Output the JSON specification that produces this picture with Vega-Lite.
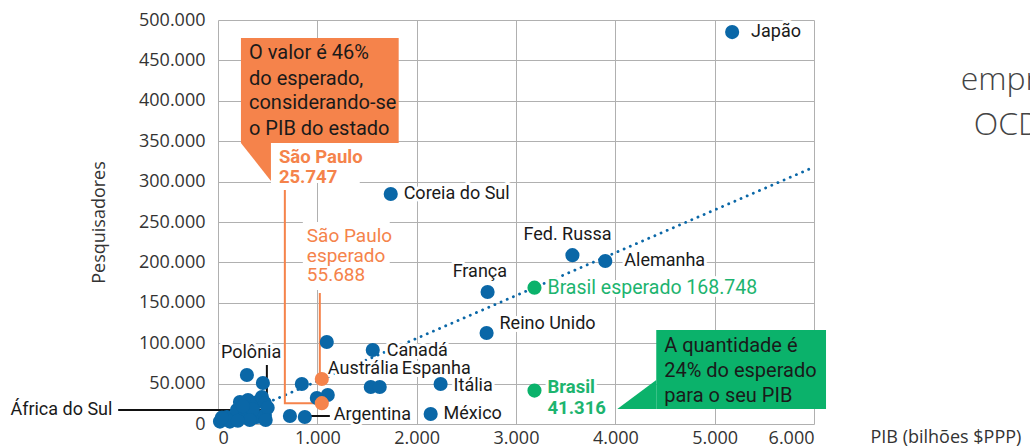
{
  "$schema": "https://vega.github.io/schema/vega-lite/v6.json",
  "width": 596,
  "height": 404,
  "autosize": {"type": "none"},
  "padding": {"left": 218, "top": 20, "right": 216, "bottom": 23},
  "background": "white",
  "datasets": {
    "bgs": [
      {"pib": 533, "pib2": 1427, "pesq": 347772, "pesq2": 298267},
      {"pib": 854, "pib2": 1729, "pesq": 250000, "pesq2": 165842}
    ],
    "boxes": [
      {"pib": 231, "pib2": 1819, "pesq": 477723, "pesq2": 347772, "grupo": "São Paulo"},
      {"pib": 4412, "pib2": 6121, "pesq": 116337, "pesq2": 18564, "grupo": "Brasil"}
    ],
    "tri": [
      {"pib": 231, "pesq": 347772, "pesq2": 347772, "grupo": "São Paulo"},
      {"pib": 533, "pesq": 347772, "pesq2": 300743, "grupo": "São Paulo"},
      {"pib": 4020, "pesq": 18564, "pesq2": 18564, "grupo": "Brasil"},
      {"pib": 4412, "pesq": 54455, "pesq2": 18564, "grupo": "Brasil"}
    ],
    "trend": [
      {"pib": 0, "pesq": 0},
      {"pib": 6000, "pesq": 318000}
    ],
    "conn": [
      {"id": "a", "ord": 1, "pib": 673, "pesq": 289604},
      {"id": "a", "ord": 2, "pib": 673, "pesq": 25747},
      {"id": "a", "ord": 3, "pib": 1045, "pesq": 25747},
      {"id": "b", "ord": 1, "pib": 1025, "pesq": 162129},
      {"id": "b", "ord": 2, "pib": 1025, "pesq": 55688}
    ],
    "ptr": [
      {"pib": 492, "pib2": 492, "pesq": 73020, "pesq2": 33416},
      {"pib": -1005, "pib2": 492, "pesq": 17300, "pesq2": 17300},
      {"pib": 925, "pib2": 1126, "pesq": 9901, "pesq2": 9901}
    ],
    "pts": [
      {"pais": "Japão", "pib": 5176, "pesq": 485000, "grupo": "OCDE"},
      {"pais": "Coreia do Sul", "pib": 1739, "pesq": 284600, "grupo": "OCDE"},
      {"pais": "Fed. Russa", "pib": 3568, "pesq": 209000, "grupo": "OCDE"},
      {"pais": "Alemanha", "pib": 3899, "pesq": 201700, "grupo": "OCDE"},
      {"pais": "França", "pib": 2714, "pesq": 163400, "grupo": "OCDE"},
      {"pais": "Reino Unido", "pib": 2704, "pesq": 112600, "grupo": "OCDE"},
      {"pais": "Canadá", "pib": 1558, "pesq": 91600, "grupo": "OCDE"},
      {"pais": "Espanha", "pib": 1538, "pesq": 45800, "grupo": "OCDE"},
      {"pais": "", "pib": 1628, "pesq": 45800, "grupo": "OCDE"},
      {"pais": "Itália", "pib": 2241, "pesq": 49500, "grupo": "OCDE"},
      {"pais": "México", "pib": 2141, "pesq": 12400, "grupo": "OCDE"},
      {"pais": "Argentina", "pib": 874, "pesq": 8700, "grupo": "OCDE"},
      {"pais": "", "pib": 724, "pesq": 9900, "grupo": "OCDE"},
      {"pais": "", "pib": 1095, "pesq": 101500, "grupo": "OCDE"},
      {"pais": "", "pib": 844, "pesq": 49500, "grupo": "OCDE"},
      {"pais": "", "pib": 1105, "pesq": 35900, "grupo": "OCDE"},
      {"pais": "Austrália", "pib": 995, "pesq": 32200, "grupo": "OCDE"},
      {"pais": "", "pib": 291, "pesq": 60600, "grupo": "OCDE"},
      {"pais": "Polônia", "pib": 452, "pesq": 50700, "grupo": "OCDE"},
      {"pais": "", "pib": 20, "pesq": 3000, "grupo": "OCDE"},
      {"pais": "", "pib": 90, "pesq": 8600, "grupo": "OCDE"},
      {"pais": "", "pib": 151, "pesq": 7400, "grupo": "OCDE"},
      {"pais": "", "pib": 191, "pesq": 17300, "grupo": "OCDE"},
      {"pais": "", "pib": 221, "pesq": 27200, "grupo": "OCDE"},
      {"pais": "", "pib": 271, "pesq": 11100, "grupo": "OCDE"},
      {"pais": "", "pib": 302, "pesq": 29700, "grupo": "OCDE"},
      {"pais": "", "pib": 392, "pesq": 27000, "grupo": "OCDE"},
      {"pais": "", "pib": 442, "pesq": 33400, "grupo": "OCDE"},
      {"pais": "", "pib": 472, "pesq": 26000, "grupo": "OCDE"},
      {"pais": "", "pib": 392, "pesq": 8600, "grupo": "OCDE"},
      {"pais": "", "pib": 472, "pesq": 11100, "grupo": "OCDE"},
      {"pais": "África do Sul", "pib": 500, "pesq": 20000, "grupo": "OCDE"},
      {"pais": "", "pib": 350, "pesq": 18000, "grupo": "OCDE"},
      {"pais": "", "pib": 250, "pesq": 22000, "grupo": "OCDE"},
      {"pais": "", "pib": 120, "pesq": 3000, "grupo": "OCDE"},
      {"pais": "", "pib": 320, "pesq": 5000, "grupo": "OCDE"},
      {"pais": "", "pib": 40, "pesq": 8000, "grupo": "OCDE"},
      {"pais": "", "pib": 200, "pesq": 4000, "grupo": "OCDE"},
      {"pais": "", "pib": 480, "pesq": 5000, "grupo": "OCDE"},
      {"pais": "Brasil", "pib": 3186, "pesq": 41316, "grupo": "Brasil"},
      {"pais": "Brasil esperado", "pib": 3186, "pesq": 168748, "grupo": "Brasil"},
      {"pais": "São Paulo", "pib": 1045, "pesq": 25747, "grupo": "São Paulo"},
      {"pais": "São Paulo esperado", "pib": 1045, "pesq": 55688, "grupo": "São Paulo"}
    ],
    "labels": [
      {"t": "Japão", "pib": 5367, "pesq": 485147},
      {"t": "Coreia do Sul", "pib": 1869, "pesq": 284653},
      {"t": "Fed. Russa", "pib": 3075, "pesq": 233910},
      {"t": "Alemanha", "pib": 4090, "pesq": 201732},
      {"t": "França", "pib": 2362, "pesq": 188118},
      {"t": "Reino Unido", "pib": 2834, "pesq": 123762},
      {"t": "Canadá", "pib": 1698, "pesq": 90346},
      {"t": "Austrália", "pib": 1106, "pesq": 68069},
      {"t": "Espanha", "pib": 1849, "pesq": 68069},
      {"t": "Itália", "pib": 2372, "pesq": 47030},
      {"t": "México", "pib": 2271, "pesq": 12376},
      {"t": "Argentina", "pib": 1166, "pesq": 11139},
      {"t": "Polônia", "pib": 30, "pesq": 87871},
      {"t": "África do Sul", "pib": -2090, "pesq": 17327}
    ],
    "spBold": [
      {"t": "São Paulo", "pib": 613, "pesq": 330445},
      {"t": "25.747", "pib": 613, "pesq": 305692}
    ],
    "spReg": [
      {"t": "São Paulo", "pib": 894, "pesq": 232673},
      {"t": "esperado", "pib": 894, "pesq": 207920},
      {"t": "55.688", "pib": 894, "pesq": 184405}
    ],
    "brReg": [
      {"t": "Brasil esperado 168.748", "pib": 3317, "pesq": 168316}
    ],
    "brBold": [
      {"t": "Brasil", "pib": 3317, "pesq": 45792},
      {"t": "41.316", "pib": 3317, "pesq": 19802}
    ],
    "boxText": [
      {"t": "O valor é 46%", "pib": 312, "pesq": 459157},
      {"t": "do esperado,", "pib": 312, "pesq": 426980},
      {"t": "considerando-se", "pib": 312, "pesq": 397277},
      {"t": "o PIB do estado", "pib": 312, "pesq": 365099},
      {"t": "A quantidade é", "pib": 4492, "pesq": 96534},
      {"t": "24% do esperado", "pib": 4492, "pesq": 65594},
      {"t": "para o seu PIB", "pib": 4492, "pesq": 34653}
    ],
    "side": [
      {"t": "empr", "pib": 7477, "pesq": 425741},
      {"t": "OCD", "pib": 7608, "pesq": 370048}
    ]
  },
  "encoding": {
    "x": {
      "field": "pib",
      "type": "quantitative",
      "scale": {"domain": [0, 6000], "nice": false, "zero": false},
      "axis": {
        "title": "PIB (bilhões $PPP)",
        "values": [0, 1000, 2000, 3000, 4000, 5000, 6000],
        "format": ",.0f",
        "grid": true,
        "domain": false,
        "ticks": false,
        "labelPadding": 5,
        "titleX": 652,
        "titleY": 13,
        "titleAlign": "left",
        "titleBaseline": "middle",
        "titleAngle": 0
      }
    },
    "y": {
      "field": "pesq",
      "type": "quantitative",
      "scale": {"domain": [0, 500000], "nice": false, "zero": false},
      "axis": {
        "title": "Pesquisadores",
        "values": [0, 50000, 100000, 150000, 200000, 250000, 300000, 350000, 400000, 450000, 500000],
        "format": ",.0f",
        "grid": true,
        "domain": false,
        "ticks": false,
        "labelPadding": 13,
        "titlePadding": 30
      }
    }
  },
  "layer": [
    {
      "data": {"name": "bgs"},
      "mark": {"type": "rect", "color": "white"},
      "encoding": {"x2": {"field": "pib2"}, "y2": {"field": "pesq2"}}
    },
    {
      "data": {"name": "boxes"},
      "mark": {"type": "rect", "clip": false, "opacity": 1},
      "encoding": {
        "x2": {"field": "pib2"},
        "y2": {"field": "pesq2"},
        "color": {"field": "grupo", "type": "nominal", "scale": {"domain": ["OCDE", "Brasil", "São Paulo"], "range": ["#0a67a7", "#0bb26b", "#f5834b"]}, "legend": null}
      }
    },
    {
      "data": {"name": "tri"},
      "mark": {"type": "area", "opacity": 1, "interpolate": "linear"},
      "encoding": {
        "y": {"field": "pesq", "type": "quantitative", "stack": null},
        "y2": {"field": "pesq2"},
        "color": {"field": "grupo", "type": "nominal", "legend": null}
      }
    },
    {
      "data": {"name": "trend"},
      "mark": {"type": "line", "color": "#0a67a7", "strokeWidth": 2.8, "strokeCap": "round", "strokeDash": [0.1, 6.6]},
      "encoding": {}
    },
    {
      "data": {"name": "conn"},
      "mark": {"type": "line", "color": "#f5834b", "strokeWidth": 2},
      "encoding": {"detail": {"field": "id"}, "order": {"field": "ord", "type": "quantitative"}}
    },
    {
      "data": {"name": "ptr"},
      "mark": {"type": "rule", "color": "#111111", "strokeWidth": 2},
      "encoding": {"x2": {"field": "pib2"}, "y2": {"field": "pesq2"}}
    },
    {
      "data": {"name": "labels"},
      "mark": {"type": "text", "align": "left", "baseline": "middle", "font": "Roboto", "fontSize": 18, "stroke": "white", "strokeWidth": 6, "strokeJoin": "round", "color": "white"},
      "encoding": {"text": {"field": "t"}}
    },
    {
      "data": {"name": "brReg"},
      "mark": {"type": "text", "align": "left", "baseline": "middle", "font": "Roboto", "fontSize": 19.5, "stroke": "white", "strokeWidth": 6, "strokeJoin": "round", "color": "white"},
      "encoding": {"text": {"field": "t"}}
    },
    {
      "data": {"name": "brBold"},
      "mark": {"type": "text", "align": "left", "baseline": "middle", "font": "Roboto", "fontSize": 18.5, "fontWeight": "bold", "stroke": "white", "strokeWidth": 6, "strokeJoin": "round", "color": "white"},
      "encoding": {"text": {"field": "t"}}
    },
    {
      "data": {"name": "pts"},
      "mark": {"type": "circle", "size": 200, "opacity": 1},
      "encoding": {
        "color": {"field": "grupo", "type": "nominal", "legend": null}
      }
    },
    {
      "data": {"name": "labels"},
      "mark": {"type": "text", "align": "left", "baseline": "middle", "font": "Roboto", "fontSize": 18, "color": "#1a1a1a"},
      "encoding": {"text": {"field": "t"}}
    },
    {
      "data": {"name": "spBold"},
      "mark": {"type": "text", "align": "left", "baseline": "middle", "font": "Roboto", "fontSize": 18.5, "fontWeight": "bold", "color": "#f5834b"},
      "encoding": {"text": {"field": "t"}}
    },
    {
      "data": {"name": "spReg"},
      "mark": {"type": "text", "align": "left", "baseline": "middle", "font": "Roboto", "fontSize": 19, "color": "#f5834b"},
      "encoding": {"text": {"field": "t"}}
    },
    {
      "data": {"name": "brReg"},
      "mark": {"type": "text", "align": "left", "baseline": "middle", "font": "Roboto", "fontSize": 19.5, "color": "#1db46f"},
      "encoding": {"text": {"field": "t"}}
    },
    {
      "data": {"name": "brBold"},
      "mark": {"type": "text", "align": "left", "baseline": "middle", "font": "Roboto", "fontSize": 18.5, "fontWeight": "bold", "color": "#1db46f"},
      "encoding": {"text": {"field": "t"}}
    },
    {
      "data": {"name": "boxText"},
      "mark": {"type": "text", "align": "left", "baseline": "middle", "font": "Roboto", "fontSize": 20, "color": "#1a1a1a"},
      "encoding": {"text": {"field": "t"}}
    },
    {
      "data": {"name": "side"},
      "mark": {"type": "text", "align": "left", "baseline": "middle", "font": "Open Sans", "fontSize": 32, "fontWeight": 300, "color": "#444444"},
      "encoding": {"text": {"field": "t"}}
    }
  ],
  "config": {
    "locale": {"number": {"decimal": ",", "thousands": ".", "grouping": [3], "currency": ["R$", ""]}},
    "view": {"stroke": null},
    "axis": {
      "labelFont": "Open Sans",
      "labelFontSize": 18,
      "labelColor": "#333333",
      "titleFont": "Open Sans",
      "titleFontSize": 18,
      "titleFontWeight": "normal",
      "titleColor": "#333333",
      "gridColor": "#b0b0b0",
      "gridWidth": 1,
      "gridOpacity": 1
    }
  }
}
